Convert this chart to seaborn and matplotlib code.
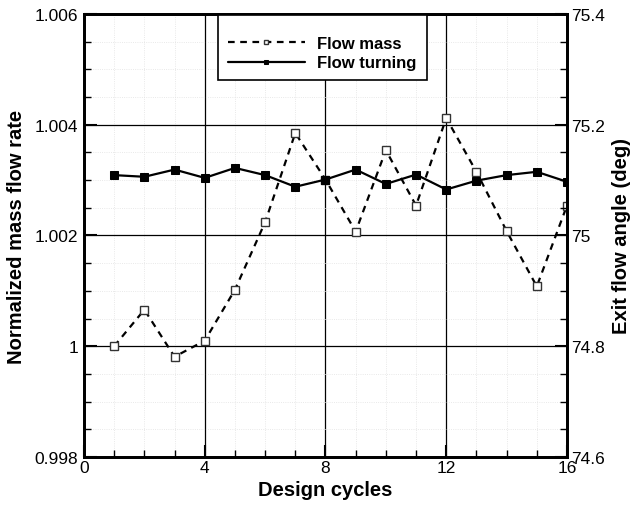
import numpy as np
import pandas as pd
import matplotlib
matplotlib.use("Agg")
import matplotlib.pyplot as plt
from matplotlib.ticker import MultipleLocator, FuncFormatter
import seaborn as sns

# values
cycles = [1, 2, 3, 4, 5, 6, 7, 8, 9, 10, 11, 12, 13, 14, 15, 16]
flow_mass = [1.00000, 1.00066, 0.99981, 1.00010, 1.00102, 1.00224, 1.00385, 1.00301,
             1.00207, 1.00354, 1.00254, 1.00412, 1.00315, 1.00208, 1.00108, 1.00254]
flow_turning = [75.109, 75.106, 75.119, 75.104, 75.122, 75.109, 75.088, 75.101,
                75.119, 75.093, 75.110, 75.083, 75.099, 75.109, 75.115, 75.097]

sns.set_style("ticks")
plt.rcParams['font.family'] = ['Liberation Sans', 'DejaVu Sans']
plt.rcParams['text.color'] = 'black'
plt.rcParams['axes.labelcolor'] = 'black'
plt.rcParams['xtick.color'] = 'black'
plt.rcParams['ytick.color'] = 'black'

df = pd.DataFrame({'cycle': cycles, 'mass': flow_mass, 'turning': flow_turning})

fig = plt.figure(figsize=(6.33, 5.06), dpi=100)
ax = fig.add_axes([0.1327, 0.0949, 0.7630, 0.8755])
ax2 = ax.twinx()

sns.lineplot(data=df, x='cycle', y='mass', ax=ax, color='black', linestyle=(0, (3, 2.5)),
             linewidth=1.6, marker='s', markersize=5.5, markerfacecolor='white',
             markeredgecolor='#333333', markeredgewidth=1.0, label='Flow mass', legend=False)
sns.lineplot(data=df, x='cycle', y='turning', ax=ax2, color='black', linestyle='-',
             linewidth=1.6, marker='s', markersize=5.5, markerfacecolor='black',
             markeredgecolor='black', label='Flow turning', legend=False)

fmt = FuncFormatter(lambda v, p: f"{v:g}")

ax.set_xlim(0, 16)
ax.set_ylim(0.998, 1.006)
ax.xaxis.set_major_locator(MultipleLocator(4))
ax.xaxis.set_minor_locator(MultipleLocator(1))
ax.yaxis.set_major_locator(MultipleLocator(0.002))
ax.yaxis.set_minor_locator(MultipleLocator(0.0005))
ax.yaxis.set_major_formatter(fmt)

ax2.set_ylim(74.6, 75.4)
ax2.yaxis.set_major_locator(MultipleLocator(0.2))
ax2.yaxis.set_minor_locator(MultipleLocator(0.05))
ax2.yaxis.set_major_formatter(fmt)

# grid: solid major lines, faint dotted minor lines
ax.grid(which='major', color='black', linewidth=0.9, linestyle='-')
ax.grid(which='minor', color='#e2e2e2', linewidth=0.6, linestyle=':')
ax.set_axisbelow(True)

for a in (ax, ax2):
    for s in a.spines.values():
        s.set_linewidth(2.0)
        s.set_color('black')

ax.tick_params(axis='both', which='major', direction='in', length=9, width=1.5,
               labelsize=12.5, pad=4)
ax.tick_params(axis='both', which='minor', direction='in', length=5, width=1.0)
ax.tick_params(axis='x', pad=2)
ax2.tick_params(axis='y', which='major', direction='in', length=9, width=1.5,
                labelsize=12.5, pad=3)
ax2.tick_params(axis='y', which='minor', direction='in', length=5, width=1.0)

ax.set_xlabel('Design cycles', fontsize=14.5, fontweight='bold', labelpad=4)
ax.set_ylabel('Normalized mass flow rate', fontsize=14.5, fontweight='bold', labelpad=6)
ax2.set_ylabel('Exit flow angle (deg)', fontsize=14.5, fontweight='bold', labelpad=5)

h_mass = [l for l in ax.get_lines() if l.get_label() == 'Flow mass']
h_turn = [l for l in ax2.get_lines() if l.get_label() == 'Flow turning']
leg = ax2.legend(h_mass + h_turn, ['Flow mass', 'Flow turning'],
                 loc='upper left', bbox_to_anchor=(218 / 633, 1 - 16 / 506),
                 bbox_transform=fig.transFigure, borderaxespad=0,
                 prop={'weight': 'bold', 'size': 12}, handlelength=4.6,
                 markerscale=0.6, fancybox=False, framealpha=1,
                 edgecolor='black', labelspacing=0.25, borderpad=0.6,
                 handletextpad=0.75, title=' ', title_fontsize=6)
leg.get_frame().set_linewidth(1.2)

plt.savefig('out.png', dpi=100)
plt.close()
